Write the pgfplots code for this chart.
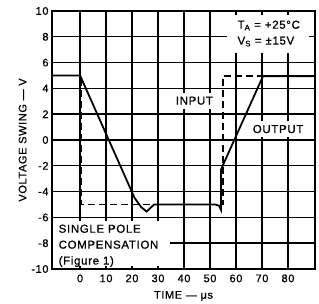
\documentclass[border=0pt]{standalone}
\usepackage{fontspec}
\setmainfont[LetterSpace=6, FakeBold=0.8]{Liberation Sans}
\usepackage{pgfplots}
\pgfplotsset{compat=1.18}
\begin{document}
\begin{tikzpicture}
\begin{axis}[
  name=ax,
  scale only axis,
  width=263bp, height=258bp,
  xmin=-10.8, xmax=90.4,
  ymin=-10, ymax=10,
  xtick={0,10,...,80},
  ytick={-10,-8,...,10},
  grid=major,
  major grid style={black, line width=1.4pt},
  axis line style={black, line width=1.8pt},
  major tick length=0pt,
  /pgf/number format/assume math mode=true,
  tick label style={font=\fontsize{11}{13}\selectfont},
  label style={font=\fontsize{11}{13}\selectfont},
  xlabel={TIME --- μs},
  ylabel={VOLTAGE SWING --- V},
  xticklabel style={yshift=-2bp},
  xlabel style={yshift=-2bp},
  ylabel style={yshift=-2bp},
]
% white label backgrounds
\fill[white] (axis cs:-10.3,-6.3) rectangle (axis cs:34.6,-9.8);
\node[fill=white, inner sep=0pt, minimum width=82bp, minimum height=38bp] at (axis cs:72.3,8.2) {};
\node[fill=white, inner xsep=4bp, inner ysep=4bp, font=\fontsize{11.5}{14}\selectfont] at (axis cs:44,3.05) {INPUT};
\node[fill=white, inner xsep=5bp, inner ysep=4bp, font=\fontsize{11.5}{14}\selectfont] at (axis cs:76.2,0.85) {OUTPUT};
\node[align=left, anchor=north west, inner sep=0pt, font=\fontsize{11.5}{16}\selectfont] at (axis cs:-8.3,-6.55) {SINGLE POLE\\COMPENSATION\\(Figure 1)};
\node[align=left, inner sep=0pt, font=\fontsize{11.5}{16}\selectfont] at (axis cs:72.6,8.25) {T\textsubscript{A} = +25°C\\V\textsubscript{S} = ±15V};
% input (dashed)
\addplot[black, line width=1.8pt, dash pattern=on 7bp off 4bp] coordinates {
  (-10.8,5) (0.5,5) (0.5,-5) (54.9,-5) (54.9,4.95) (70.4,4.95)
};
% output (solid)
\addplot[black, line width=1.8pt] coordinates {
  (-10.8,5) (0,5) (21,-4.5) (23.5,-5.2) (25.6,-5.55) (28.5,-5) (52,-5) (53.5,-5.1) (54.2,-5.4) (54.2,-2.3) (70.4,4.95) (90.4,4.95)
};
\end{axis}
\pgfresetboundingbox
\path[use as bounding box] ([xshift=-52bp,yshift=-35bp]ax.south west) rectangle ([xshift=4bp,yshift=11bp]ax.north east);
\end{tikzpicture}
\end{document}
